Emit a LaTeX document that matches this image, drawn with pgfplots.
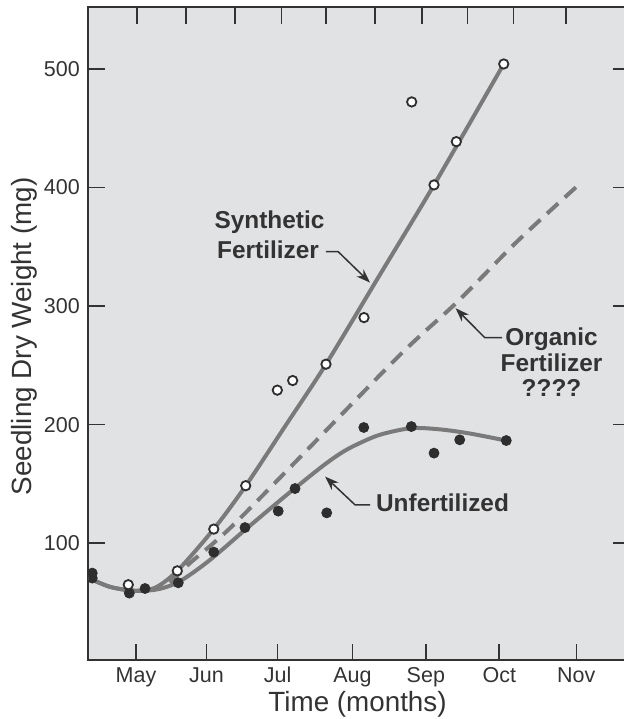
\documentclass[border=0pt]{standalone}
\usepackage{fontspec}
\setmainfont{Liberation Sans}
\usepackage{pgfplots}
\pgfplotsset{compat=1.18}
\usetikzlibrary{arrows.meta}
\definecolor{bg}{HTML}{E1E2E4}
\definecolor{curve}{HTML}{7A7A7A}
\definecolor{ink}{HTML}{333333}
\definecolor{dot}{HTML}{2E2E2E}
\begin{document}
\begin{tikzpicture}[x=1pt,y=1pt]
\useasboundingbox (0,0) rectangle (312,359.5);
\begin{axis}[
  at={(44.15pt,29.5pt)}, anchor=south west,
  scale only axis, width=270.35pt, height=326.35pt,
  xmin=4.35, xmax=11.718, ymin=1.5, ymax=552,
  axis background/.style={fill=bg},
  axis line style={ink, line width=1pt},
  xtick={5,5.96,6.93,7.95,8.95,9.95,11},
  xticklabels={May,Jun,Jul,Aug,Sep,Oct,Nov},
  xtick pos=left,
  ytick={100,200,300,400,500},
  ytick pos=both, yticklabel pos=left,
  major tick length=8.2pt,
  tick align=inside,
  tick style={ink, line width=0.8pt},
  /pgf/number format/assume math mode=true,
  ticklabel style={font=\fontsize{10.75}{12}\selectfont, text=ink},
  xticklabel style={anchor=base, yshift=-11.5pt},
  yticklabel style={xshift=-0.7pt},
  xlabel={Time (months)}, ylabel={Seedling Dry Weight (mg)},
  label style={font=\fontsize{13.9}{16}\selectfont, text=ink},
  xlabel style={at={(axis description cs:0.498,-0.0674)}, anchor=center},
  ylabel style={at={(axis description cs:-0.119,0.496)}, anchor=center},
  clip marker paths=true,
]
% Synthetic fertilizer fit
\addplot[curve, line width=2pt, smooth] coordinates {
 (4.350,70.8) (4.646,63.2) (4.986,59.9) (5.259,62.4) (5.563,76.7)
 (6.059,111.9) (6.495,148.4) (7.044,199.8) (7.589,251) (8.325,326.6)
 (9.061,402.2) (10.011,504.2)
};
% Organic fertilizer (projected)
\addplot[curve, line width=2pt, dash pattern=on 7.5pt off 4.5pt, smooth] coordinates {
 (5.463,66.6) (5.709,81.8) (6.281,112.7) (7.235,172.5) (8.598,258.9)
 (9.383,303.8) (10.192,354.4) (11.0,400.5)
};
% Unfertilized fit
\addplot[curve, line width=2pt, smooth] coordinates {
 (4.350,70.8) (4.646,63.2) (4.986,59.9) (5.3,61.2) (5.6,68.0)
 (6.0,85.5) (6.5,112.0) (7.0,138.0) (7.5,163.0) (7.78,175.5)
 (8.0,183.0) (8.325,191.5) (8.748,197.0) (9.143,196.0) (9.552,192.5)
 (10.042,186.6)
};
% Unfertilized data
\addplot[only marks, mark=*, mark size=2.5pt, mark options={fill=dot, draw=dot}] coordinates {
 (4.404,74.8) (4.404,70.6) (4.909,57.9) (5.123,61.8) (5.576,66.6)
 (6.059,92.5) (6.485,113.2) (6.938,127.1) (7.167,146.1) (7.599,125.6)
 (8.104,197.6) (8.752,198.4) (9.061,176.0) (9.411,187.2) (10.046,186.6)
};
% Synthetic data
\addplot[only marks, mark=*, mark size=2.35pt, mark options={fill=white, draw=dot, line width=0.9pt}] coordinates {
 (4.895,65.0) (5.563,76.7) (6.060,111.9) (6.495,148.5) (6.926,229.1)
 (7.135,237.2) (7.589,251.0) (8.107,290.3) (8.757,472.2) (9.061,402.2)
 (9.365,438.7) (10.011,504.2)
};
% annotations
\begin{scope}[every node/.style={font=\bfseries\fontsize{12.2}{14}\selectfont, text=ink, anchor=base, inner sep=0pt}]
\node at (axis cs:6.819,365.1) {Synthetic};
\node at (axis cs:6.799,340.4) {Fertilizer};
\node at (axis cs:10.662,266.4) {Organic};
\node at (axis cs:10.662,244.8) {Fertilizer};
\node at (axis cs:10.662,223.7) {????};
\node at (axis cs:9.177,126.8) {Unfertilized};
\end{scope}
\draw[ink, line width=0.75pt, -{Stealth[length=7pt,width=5pt]}]
  (axis cs:7.589,346) -- (axis cs:7.753,346) -- (axis cs:8.189,319.8);
\draw[ink, line width=0.75pt, -{Stealth[length=7pt,width=5pt]}]
  (axis cs:9.990,273.4) -- (axis cs:9.752,273.4) -- (axis cs:9.355,298.2);
\draw[ink, line width=0.75pt, -{Stealth[length=7pt,width=5pt]}]
  (axis cs:8.189,132.4) -- (axis cs:7.984,132.4) -- (axis cs:7.576,156.2);
\end{axis}
\begin{axis}[
  at={(44.15pt,29.5pt)}, anchor=south west,
  scale only axis, width=270.35pt, height=326.35pt,
  xmin=4.35, xmax=11.718, ymin=1.5, ymax=552,
  axis x line*=top, axis y line=none,
  axis line style={ink, line width=1pt},
  xtick={5.014,5.685,6.345,6.980,7.589,8.254,8.895,9.519,10.142,10.856},
  xticklabels={},
  major tick length=8.4pt,
  tick align=inside,
  tick style={ink, line width=0.8pt},
]
\end{axis}
\end{tikzpicture}
\end{document}
